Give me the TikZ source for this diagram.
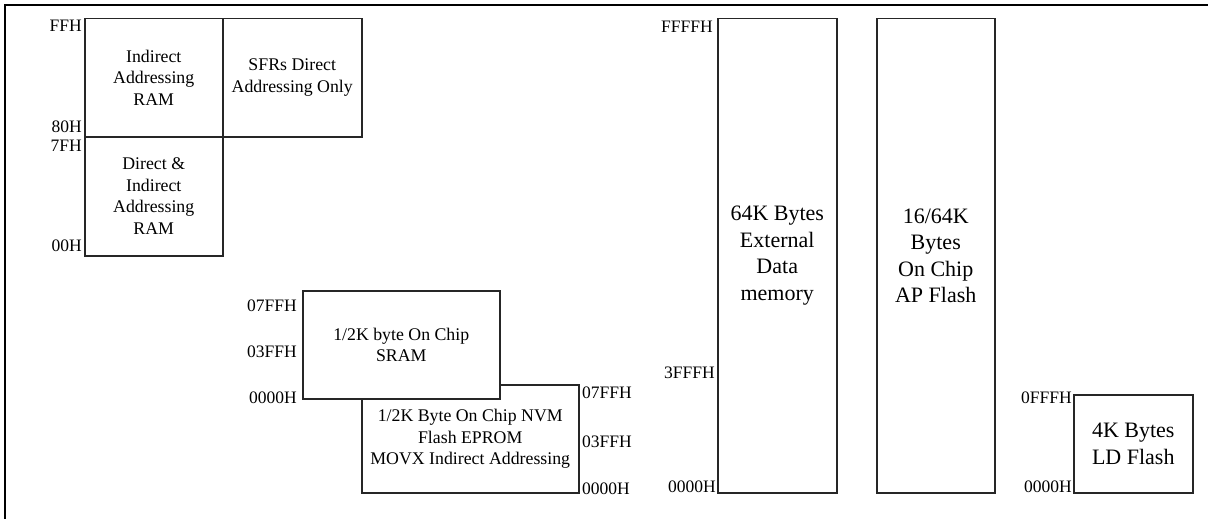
\documentclass[tikz,border=0pt]{standalone}
\usepackage{fontspec}
\setmainfont{Liberation Serif}
\begin{document}
\begin{tikzpicture}[x=1pt,y=-1pt,
  box/.style={draw=black!85,line width=1.5pt,fill=white,inner sep=0pt,anchor=north west,align=center,font=\fontsize{17.8}{21.5}\selectfont},
  bigbox/.style={box,font=\fontsize{22}{26.5}\selectfont},
  lab/.style={inner sep=0pt,font=\fontsize{17.5}{21}\selectfont},
  frame/.style={line width=2pt,black}]
\useasboundingbox (0,0) rectangle (1208,519);
\coordinate (f1) at (5,519);
\coordinate (f2) at (5,5);
\coordinate (f3) at (1208,5);
\draw[frame] (f1) -- (f2) -- (f3);
% internal RAM
\node[box,minimum width=138pt,minimum height=118pt] (ira) at (84,18) {Indirect\\Addressing\\RAM};
\node[box,minimum width=139pt,minimum height=118pt] (sfr) at (222,18) {SFRs Direct\\Addressing Only};
\node[box,minimum width=138pt,minimum height=119pt] (dir) at (84,136) {Direct \&\\Indirect\\Addressing\\RAM};
\node[lab,anchor=base east] (lffh) at (82,32) {FFH};
\node[lab,anchor=base east] (l80h) at (82,132) {80H};
\node[lab,anchor=base east] (l7fh) at (82,151) {7FH};
\node[lab,anchor=base east] (l00h) at (82,251) {00H};
% NVM and SRAM
\node[box,minimum width=217pt,minimum height=108pt] (nvm) at (361,384) {1/2K Byte On Chip NVM\\Flash EPROM\\MOVX Indirect Addressing};
\node[box,minimum width=197pt,minimum height=108pt] (sram) at (302,290) {1/2K byte On Chip\\SRAM};
\node[lab,anchor=base east] (s1) at (297,311) {07FFH};
\node[lab,anchor=base east] (s2) at (297,357) {03FFH};
\node[lab,anchor=base east] (s3) at (297,403) {0000H};
\node[lab,anchor=base west] (n1) at (582,398) {07FFH};
\node[lab,anchor=base west] (n2) at (582,447) {03FFH};
\node[lab,anchor=base west] (n3) at (582,494) {0000H};
% external data and AP flash
\node[bigbox,minimum width=119pt,minimum height=474pt] (ext) at (717,18) {64K Bytes\\External\\Data\\memory};
\node[bigbox,minimum width=118pt,minimum height=474pt] (ap) at (876,18) {16/64K\\Bytes\\On Chip\\AP Flash};
\node[lab,anchor=base east] (e1) at (713,33) {FFFFH};
\node[lab,anchor=base east] (e2) at (715,378) {3FFFH};
\node[lab,anchor=base east] (e3) at (716,492) {0000H};
% LD flash
\node[bigbox,minimum width=119pt,minimum height=98pt] (ld) at (1073,394) {4K Bytes\\LD Flash};
\node[lab,anchor=base east] (d1) at (1072,403) {0FFFH};
\node[lab,anchor=base east] (d2) at (1072,492) {0000H};
\end{tikzpicture}
\end{document}
